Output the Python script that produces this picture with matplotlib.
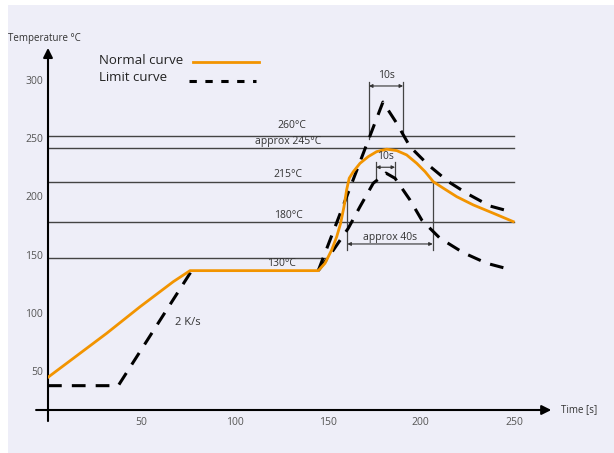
import matplotlib
matplotlib.use("Agg")
import matplotlib.pyplot as plt
from matplotlib.patches import Rectangle

# normal soldering profile (time s, temperature)
normal_t = [0, 13.6, 31.5, 49.4, 67.2, 76.2, 145, 148.6, 152.2, 154.9, 157.0, 158.8, 160.2,
            161.6, 163.8, 167.4, 171.8, 176.3, 181.7, 187.1, 192.4, 197.8, 202.3, 206.7,
            212.1, 219.3, 228.2, 238.9, 249.6]
normal_T = [44.6, 60.9, 82.4, 105.2, 126.7, 136.2, 136.2, 142.5, 154.0, 165.4, 176.9, 191.2,
            205.5, 215.6, 221.2, 228.4, 234.1, 238.4, 240.5, 239.3, 235.6, 228.4, 221.2, 212.6,
            207.0, 199.7, 192.6, 185.5, 178.3]

# limit curve: ramp part, then lower branch after the plateau
ramp_t = [0, 37.7, 77.1]
ramp_T = [37.4, 37.4, 136.2]
limit_t = [145, 151.3, 161.1, 167.4, 174.5, 181.3, 186.2, 194.2, 200.5, 204.0, 210.3, 222.8,
           235.4, 249.5]
limit_T = [136.2, 149.7, 172.6, 191.2, 211.3, 220, 215.5, 196.9, 179.7, 174.0, 164.0, 151.6,
           142.5, 136.5]

# limit curve, upper branch
upper_t = [145, 179.7, 187, 194.2, 204, 214.8, 225.5, 237.1, 249.5]
upper_T = [136.2, 281, 263, 242.7, 227, 212.6, 201.8, 191.7, 186.3]

# reference lines
ref_T = [251.9, 241.6, 212.4, 178, 147]
ref_end = [250, 250, 250, 250, 149.7]
ref_labels = ['260°C', 'approx 245°C', '215°C', '180°C', '130°C']
ref_label_t = [130.9, 128.8, 128.8, 128.8, 125.4]
ref_label_T = [260.7, 247, 219.2, 183.2, 141.9]

xticks = [50, 100, 150, 200, 250]
yticks = [50, 100, 150, 200, 250, 300]

ORANGE = '#F29400'
GREY = '#444444'
TXT = '#333333'
DASH = (0, (4.5, 3.3))

plt.rcParams['font.family'] = ['Open Sans', 'DejaVu Sans']

fig = plt.figure(figsize=(6.14, 4.53), dpi=100)
fig.patch.set_facecolor('white')
fig.patches.append(Rectangle((8 / 614, 0), 1, 1 - 5 / 453, transform=fig.transFigure,
                             facecolor='#EEEEF8', edgecolor='none', zorder=-10))

ax = fig.add_axes([48 / 614, 1 - 410 / 453, (555 - 48) / 614, (410 - 45) / 453])
ax.set_facecolor('none')
ax.set_xlim(0, 272)
ax.set_ylim(16.5, 330)
for s in ax.spines.values():
    s.set_visible(False)

ax.set_xticks(xticks)
ax.set_yticks(yticks)
ax.tick_params(length=0, labelsize=7.5, labelcolor='#555555')
ax.tick_params(axis='x', pad=5)
ax.tick_params(axis='y', pad=3.5)

# axes with arrows
ax.annotate('', xy=(270, 16.5), xytext=(-6.4, 16.5), annotation_clip=False,
            arrowprops=dict(arrowstyle='-|>', lw=1.5, color='black', mutation_scale=14,
                            shrinkA=0, shrinkB=0))
ax.annotate('', xy=(0, 327.5), xytext=(0, 7), annotation_clip=False,
            arrowprops=dict(arrowstyle='-|>', lw=1.5, color='black', mutation_scale=14,
                            shrinkA=0, shrinkB=0))
ax.text(-21.5, 336, 'Temperature °C', fontsize=7, color=TXT, va='center', ha='left',
        clip_on=False)
ax.text(275, 17, 'Time [s]', fontsize=7, color=TXT, va='center', ha='left', clip_on=False)

# reference lines
for T, end, lab, lt, lT in zip(ref_T, ref_end, ref_labels, ref_label_t, ref_label_T):
    ax.plot([0, end], [T, T], color=GREY, lw=1.0, zorder=1)
    ax.text(lt, lT, lab, fontsize=7.5, color=TXT, ha='center', va='center')

# curves
ax.plot(ramp_t, ramp_T, color='black', lw=2.2, ls=DASH, zorder=2)
ax.plot(limit_t, limit_T, color='black', lw=2.2, ls=DASH, zorder=2)
ax.plot(upper_t, upper_T, color='black', lw=2.2, ls=DASH, zorder=2)
ax.plot(normal_t, normal_T, color=ORANGE, lw=2.0, zorder=3, solid_joinstyle='round')


def span(t0, t1, top0, bot0, top1, bot1, ya, label, yl):
    ax.plot([t0, t0], [bot0, top0], color=GREY, lw=0.9, zorder=1)
    ax.plot([t1, t1], [bot1, top1], color=GREY, lw=0.9, zorder=1)
    ax.annotate('', xy=(t1, ya), xytext=(t0, ya),
                arrowprops=dict(arrowstyle='<|-|>', lw=0.8, color=TXT, mutation_scale=5,
                                shrinkA=0, shrinkB=0))
    ax.text((t0 + t1) / 2, yl, label, fontsize=7.5, color=TXT, ha='center', va='center')


span(172.2, 190.5, 298.3, 249.3, 298.3, 255.6, 294.8, '10s', 303.5)
span(176, 186.2, 229.8, 215.5, 229.8, 215.5, 225, '10s', 234)
span(160.6, 206.4, 205.5, 154, 212.6, 154, 159.1, 'approx 40s', 164.5)

ax.text(68.1, 91.5, '2 K/s', fontsize=8, color=TXT, ha='left', va='center')

# legend drawn by hand
ax.text(27.5, 316.3, 'Normal curve', fontsize=9.5, color='#222222', ha='left', va='center')
ax.text(27.5, 302.1, 'Limit curve', fontsize=9.5, color='#222222', ha='left', va='center')
ax.plot([77.8, 113.2], [315.7, 315.7], color=ORANGE, lw=2.0)
ax.plot([75.6, 111.6], [299.4, 299.4], color='black', lw=2.2, ls=(0, (2.4, 2.8)))

fig.savefig('out.png', dpi=100)
